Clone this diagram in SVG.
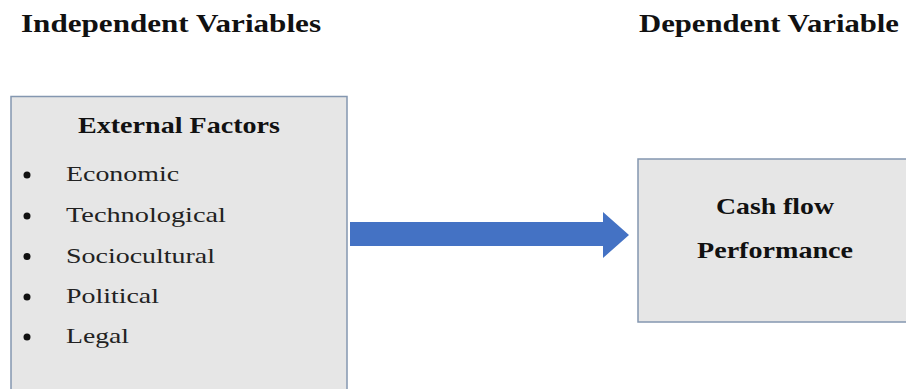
<svg xmlns="http://www.w3.org/2000/svg" width="906" height="389" viewBox="0 0 906 389">
  <style>
    .box { fill: #e6e6e6; stroke: #8497b0; stroke-width: 1.5; }
    text { font-family: "Liberation Serif", "DejaVu Serif", "Times New Roman", serif; }
    .title { font-weight: bold; font-size: 25px; fill: #111; }
    .head { font-weight: bold; font-size: 23px; fill: #111; }
    .item { font-size: 21px; fill: #222; }
    .bullet { fill: #111; }
    .arrow { fill: #4472c4; }
  </style>
  <rect width="906" height="389" fill="#ffffff"/>
  <text class="title" x="21" y="32" textLength="300" lengthAdjust="spacingAndGlyphs">Independent Variables</text>
  <text class="title" x="639" y="32" textLength="260" lengthAdjust="spacingAndGlyphs">Dependent Variable</text>

  <g id="external-factors">
    <rect class="box" x="11" y="96.5" width="336" height="320"/>
    <text class="head" x="78" y="133" textLength="202" lengthAdjust="spacingAndGlyphs">External Factors</text>
    <circle class="bullet" cx="27" cy="175" r="3.5"/>
    <text class="item" x="66" y="181" textLength="113" lengthAdjust="spacingAndGlyphs">Economic</text>
    <circle class="bullet" cx="27" cy="216" r="3.5"/>
    <text class="item" x="66" y="222" textLength="160" lengthAdjust="spacingAndGlyphs">Technological</text>
    <circle class="bullet" cx="27" cy="256.5" r="3.5"/>
    <text class="item" x="66" y="262.5" textLength="149" lengthAdjust="spacingAndGlyphs">Sociocultural</text>
    <circle class="bullet" cx="27" cy="297" r="3.5"/>
    <text class="item" x="66" y="303" textLength="93" lengthAdjust="spacingAndGlyphs">Political</text>
    <circle class="bullet" cx="27" cy="337" r="3.5"/>
    <text class="item" x="66" y="343" textLength="63" lengthAdjust="spacingAndGlyphs">Legal</text>
  </g>

  <g id="cash-flow-performance">
    <rect class="box" x="638" y="159" width="300" height="163"/>
    <text class="head" x="716" y="214" textLength="118" lengthAdjust="spacingAndGlyphs">Cash flow</text>
    <text class="head" x="697" y="258" textLength="156" lengthAdjust="spacingAndGlyphs">Performance</text>
  </g>

  <g id="connectors">
    <polygon class="arrow" points="350,222 603,222 603,212 629,235 603,258 603,246 350,246"/>
  </g>
</svg>
